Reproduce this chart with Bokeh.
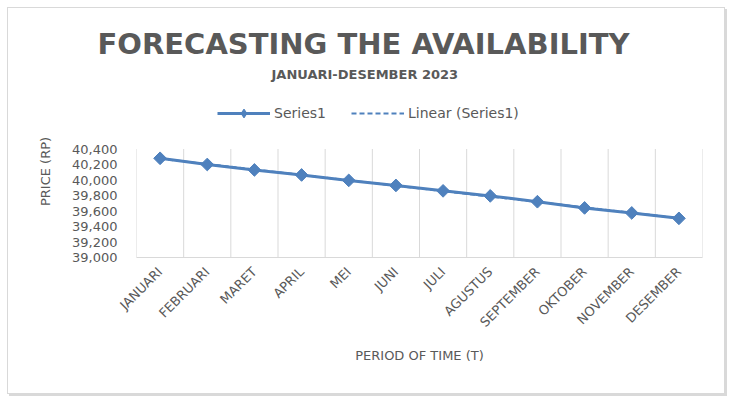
import numpy as np
from bokeh.plotting import figure
from bokeh.models import (FactorRange, Range1d, FixedTicker, NumeralTickFormatter,
                          Title, Legend, LegendItem)
from bokeh.embed import file_html
from bokeh.resources import INLINE

months = ["JANUARI", "FEBRUARI", "MARET", "APRIL", "MEI", "JUNI", "JULI",
          "AGUSTUS", "SEPTEMBER", "OKTOBER", "NOVEMBER", "DESEMBER"]
price = [40280, 40200, 40130, 40065, 39995, 39930, 39860, 39795, 39720, 39640, 39575, 39505]
y_ticks = [39000, 39200, 39400, 39600, 39800, 40000, 40200, 40400]

blue = "#4F81BD"
grey_text = "#595959"
grid_col = "#d9d9d9"
font = "DejaVu Sans"

# the frame also holds the legend strip above the plot area
plot_h = 108.5           # pixels used by 39,000 .. 40,400
frame_h = 172
y_end = y_ticks[0] + (y_ticks[-1] - y_ticks[0]) * frame_h / plot_h

p = figure(x_range=FactorRange(*months), y_range=Range1d(y_ticks[0], y_end),
           frame_width=566, frame_height=frame_h, title=None,
           min_border_left=128, min_border_right=22, min_border_top=77, min_border_bottom=136,
           output_backend="svg", toolbar_location=None)
p.styles = {"margin-left": "8px", "margin-top": "8px",
            "outline": "1px solid #d9d9d9", "box-shadow": "2px 2px 0 1px #d9d9d9"}
p.outline_line_color = None
p.grid.visible = False

# vertical lines between months, only over the value area
bounds = list(range(len(months) + 1))
p.segment(x0=bounds, y0=[y_ticks[0]] * len(bounds), x1=bounds, y1=[y_ticks[-1]] * len(bounds),
          line_color=grid_col, line_width=1)

# linear trend of the series (Excel "Linear (Series1)")
idx = np.arange(1, len(price) + 1)
slope, icpt = np.polyfit(idx, price, 1)
trend = slope * idx + icpt

r_trend = p.line(months, trend, line_color=blue, line_width=2, line_dash="5 3")
r_line = p.line(months, price, line_color=blue, line_width=3)
# diamond used for the legend swatch (hidden under the turned squares)
r_key = p.scatter(months, price, marker="diamond", size=10, fill_color=blue, line_color=blue)
p.scatter(months, price, marker="square", angle=np.pi / 4, size=9,
          fill_color=blue, line_color=blue)

p.yaxis.ticker = FixedTicker(ticks=y_ticks)
p.yaxis.formatter = NumeralTickFormatter(format="0,0")
p.yaxis.axis_line_color = None
p.yaxis.major_tick_line_color = None
p.yaxis.minor_tick_line_color = None
p.yaxis.major_label_standoff = 13
p.yaxis.major_label_text_font = font
p.yaxis.major_label_text_font_size = "13px"
p.yaxis.major_label_text_color = grey_text
p.yaxis.axis_label = "PRICE (RP)"
p.yaxis.axis_label_text_font = font
p.yaxis.axis_label_text_font_style = "normal"
p.yaxis.axis_label_text_font_size = "13px"
p.yaxis.axis_label_text_color = grey_text
p.yaxis.axis_label_standoff = 16

p.xaxis.axis_line_color = grid_col
p.xaxis.major_tick_line_color = None
p.xaxis.minor_tick_line_color = None
p.xaxis.major_label_orientation = np.pi / 4
p.xaxis.major_label_standoff = 6
p.xaxis.major_label_text_font = font
p.xaxis.major_label_text_font_size = "13px"
p.xaxis.major_label_text_color = grey_text
p.xaxis.axis_label = "PERIOD OF TIME (T)"
p.xaxis.axis_label_text_font = font
p.xaxis.axis_label_text_font_style = "normal"
p.xaxis.axis_label_text_font_size = "13px"
p.xaxis.axis_label_text_color = grey_text
p.xaxis.axis_label_standoff = 10

legend = Legend(items=[LegendItem(label="Series1", renderers=[r_line, r_key]),
                       LegendItem(label="Linear (Series1)", renderers=[r_trend])],
                orientation="horizontal", location=(81, 133),
                glyph_width=53, glyph_height=22, label_height=22, label_standoff=4,
                spacing=25, padding=0, margin=0, border_line_color=None,
                background_fill_alpha=0, label_text_font=font,
                label_text_font_size="14px", label_text_color=grey_text)
p.add_layout(legend)

# subtitle first: it sits nearest the frame
p.add_layout(Title(text="JANUARI-DESEMBER 2023", align="left", offset=135, standoff=7,
                   text_font=font, text_font_style="bold", text_font_size="13px",
                   text_color=grey_text), "above")
p.add_layout(Title(text="FORECASTING THE AVAILABILITY", align="left", offset=-39, standoff=2,
                   text_font=font, text_font_style="bold", text_font_size="29px",
                   text_color=grey_text), "above")

open("out.html", "w").write(file_html(p, INLINE))
